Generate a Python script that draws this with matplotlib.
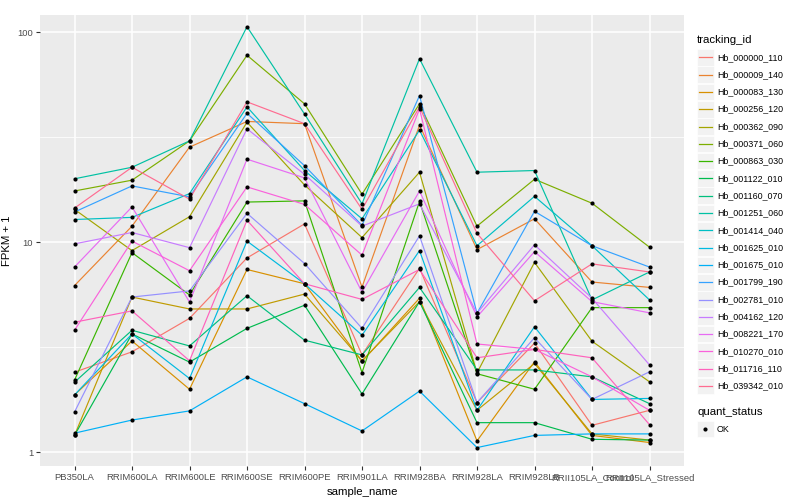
import numpy as np
import matplotlib
matplotlib.use("Agg")
import matplotlib.pyplot as plt
from matplotlib.patches import Rectangle
from matplotlib.lines import Line2D
from matplotlib.ticker import FixedLocator, NullFormatter

plt.rcParams["font.family"] = ["Liberation Sans", "DejaVu Sans"]

samples = ["PB350LA", "RRIM600LA", "RRIM600LE", "RRIM600SE", "RRIM600PE",
           "RRIM901LA", "RRIM928BA", "RRIM928LA", "RRIM928LB",
           "RRII105LA_Control", "RRII105LA_Stressed"]

ids = ["Hb_000000_110", "Hb_000009_140", "Hb_000083_130", "Hb_000256_120",
       "Hb_000362_090", "Hb_000371_060", "Hb_000863_030", "Hb_001122_010",
       "Hb_001160_070", "Hb_001251_060", "Hb_001414_040", "Hb_001625_010",
       "Hb_001675_010", "Hb_001799_190", "Hb_002781_010", "Hb_004162_120",
       "Hb_008221_170", "Hb_010270_010", "Hb_011716_110", "Hb_039342_010"]

# ggplot hue palette, 20 levels
colors = ["#F8766D", "#EA8331", "#D89000", "#C09B00", "#A3A500", "#7CAE00",
          "#39B600", "#00BB4E", "#00BF7D", "#00C1A3", "#00BFC4", "#00BAE0",
          "#00B0F6", "#35A2FF", "#9590FF", "#C77CFF", "#E76BF3", "#FA62DB",
          "#FF62BC", "#FF6C91"]

# FPKM + 1 per gene, one value per sample
hb_000000_110 = [2.4, 3.0, 4.33, 8.4, 12.2, 2.9, 7.5, 1.72, 3.3, 1.34, 1.58]
hb_000009_140 = [6.2, 11.9, 28.3, 37.5, 36.6, 6.1, 36.0, 9.2, 12.9, 6.45, 6.08]
hb_000083_130 = [1.87, 3.38, 1.99, 7.4, 6.33, 2.7, 5.4, 1.13, 2.69, 1.2, 1.11]
hb_000256_120 = [1.2, 5.47, 4.8, 4.8, 5.65, 2.72, 5.2, 1.58, 2.64, 1.22, 1.14]
hb_000362_090 = [14.3, 9.1, 13.2, 37.2, 18.7, 10.5, 21.5, 2.38, 8.0, 3.37, 2.16]
hb_000371_060 = [17.5, 19.7, 30.3, 77.5, 45.5, 16.9, 45.5, 11.9, 19.9, 15.3, 9.45]
hb_000863_030 = [2.2, 8.9, 5.6, 15.5, 15.7, 2.39, 15.6, 2.36, 1.99, 4.87, 4.87]
hb_001122_010 = [1.2, 3.65, 2.68, 3.88, 5.0, 1.89, 5.2, 1.38, 1.38, 1.15, 1.14]
hb_001160_070 = [2.15, 3.8, 3.2, 5.55, 3.41, 2.9, 6.08, 2.46, 2.46, 2.28, 1.7]
hb_001251_060 = [20.0, 22.7, 30.3, 106, 40.7, 15.2, 74.6, 21.5, 21.9, 5.3, 7.2]
hb_001414_040 = [12.8, 13.1, 17.0, 44, 21.9, 12.9, 34.1, 9.6, 16.5, 9.6, 5.3]
hb_001625_010 = [1.87, 3.65, 2.24, 10.1, 6.33, 3.6, 9.1, 1.58, 3.95, 1.78, 1.8]
hb_001675_010 = [1.23, 1.42, 1.57, 2.28, 1.7, 1.26, 1.95, 1.05, 1.2, 1.22, 1.22]
hb_001799_190 = [13.9, 18.5, 16.4, 41, 23.1, 12.0, 49.8, 4.58, 14.0, 9.6, 7.6]
hb_002781_010 = [1.55, 5.47, 5.85, 13.7, 7.9, 3.88, 10.7, 1.72, 3.5, 1.78, 2.41]
hb_004162_120 = [9.8, 11.1, 9.4, 34.6, 21.0, 11.9, 15.2, 4.58, 9.7, 5.4, 2.6]
hb_008221_170 = [7.6, 14.7, 5.18, 24.8, 20.2, 5.77, 17.5, 4.4, 9.0, 5.2, 4.6]
hb_010270_010 = [3.8, 10.1, 7.3, 18.3, 15.1, 8.66, 43, 3.27, 3.08, 2.28, 1.58]
hb_011716_110 = [4.15, 4.7, 2.72, 12.7, 6.33, 5.33, 7.4, 2.81, 3.08, 2.81, 1.35]
hb_039342_010 = [14.5, 22.7, 16.0, 46.5, 36.6, 14.3, 44, 11.0, 5.25, 7.87, 7.2]

series = [hb_000000_110, hb_000009_140, hb_000083_130, hb_000256_120,
          hb_000362_090, hb_000371_060, hb_000863_030, hb_001122_010,
          hb_001160_070, hb_001251_060, hb_001414_040, hb_001625_010,
          hb_001675_010, hb_001799_190, hb_002781_010, hb_004162_120,
          hb_008221_170, hb_010270_010, hb_011716_110, hb_039342_010]

W, H = 800, 500
fig = plt.figure(figsize=(8, 5), dpi=100)
# panel in pixels: x 40..684, y 15..466
ax = fig.add_axes([40 / W, 1 - 466 / H, (684 - 40) / W, (466 - 15) / H])
ax.set_facecolor("#EBEBEB")
for s in ax.spines.values():
    s.set_visible(False)

x = np.arange(len(samples))
for vals, c in zip(series, colors):
    ax.plot(x, vals, color=c, lw=0.85, zorder=2)
for vals in series:
    ax.plot(x, vals, "o", color="black", ms=3.0, mew=0, zorder=3)

ax.set_yscale("log")
ax.set_ylim(0.858, 120.5)
ax.set_xlim(-0.6, len(samples) - 0.4)

ax.yaxis.set_major_locator(FixedLocator([1, 10, 100]))
ax.yaxis.set_minor_locator(FixedLocator([10 ** 0.5, 10 ** 1.5]))
ax.yaxis.set_minor_formatter(NullFormatter())
ax.set_yticklabels(["1", "10", "100"])
ax.set_xticks(x)
ax.set_xticklabels(samples)

ax.grid(True, which="major", color="white", lw=1.1, zorder=0)
ax.grid(True, which="minor", axis="y", color="white", lw=0.55, zorder=0)
ax.set_axisbelow(True)
ax.tick_params(axis="both", which="major", length=3, width=0.8, color="#333333",
               labelsize=6.8, labelcolor="#4D4D4D", pad=2)
ax.tick_params(axis="y", which="minor", length=0)

ax.set_xlabel("sample_name", fontsize=8.2)
ax.xaxis.set_label_coords(0.5, -(487 - 466) / (466 - 15))
ax.set_ylabel("FPKM + 1", fontsize=8.2)
ax.yaxis.set_label_coords(-(40 - 12) / (684 - 40), 0.5)


def fx(px):
    return px / W


def fy(py):
    return 1 - py / H


# legend drawn by hand to match ggplot layout
fig.text(fx(697), fy(40), "tracking_id", fontsize=8.2, va="center", ha="left")
for i, (name, c) in enumerate(zip(ids, colors)):
    yc = 57.3 + i * 17.3
    fig.patches.append(Rectangle((fx(697), fy(yc + 8.3)), 16.6 / W, 16.6 / H,
                                 transform=fig.transFigure, facecolor="#F2F2F2",
                                 edgecolor="white", lw=0.5))
    fig.lines.append(Line2D([fx(698.5), fx(712)], [fy(yc), fy(yc)], color=c,
                            lw=0.9, transform=fig.transFigure))
    fig.text(fx(717), fy(yc), name, fontsize=6.4, va="center", ha="left")

fig.text(fx(697), fy(412), "quant_status", fontsize=8.2, va="center", ha="left")
fig.patches.append(Rectangle((fx(697), fy(429 + 8.3)), 16.6 / W, 16.6 / H,
                             transform=fig.transFigure, facecolor="#F2F2F2",
                             edgecolor="white", lw=0.5))
fig.lines.append(Line2D([fx(705.3)], [fy(429)], marker="o", color="black", ms=3.0,
                        mew=0, transform=fig.transFigure))
fig.text(fx(717), fy(429), "OK", fontsize=6.4, va="center", ha="left")

fig.savefig("out.png", dpi=100)
